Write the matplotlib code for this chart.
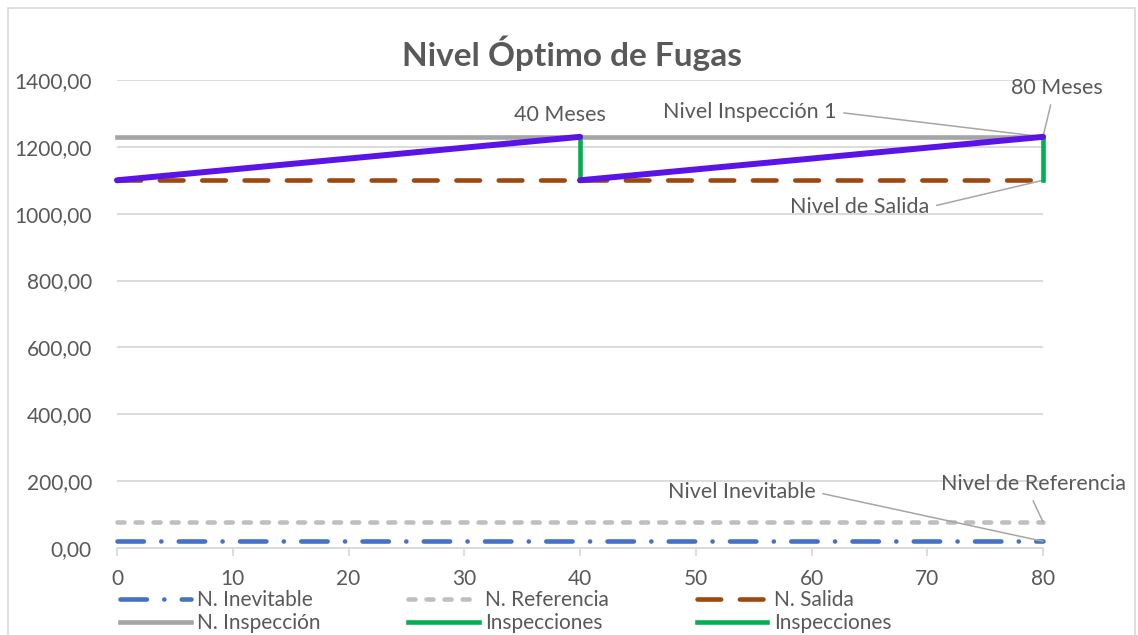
import matplotlib.pyplot as plt
import matplotlib.patches as mpatches
from matplotlib.ticker import FuncFormatter, MultipleLocator
import numpy as np

plt.rcParams['font.family'] = ['Lato', 'DejaVu Sans']
plt.rcParams['lines.scale_dashes'] = False

# datos
x_niveles = [0, 80]
n_inevitable = [20, 20]
n_referencia = [78, 78]
n_salida = [1100, 1100]
n_inspeccion = [1230, 1230]
insp1_x = [40, 40]
insp1_y = [1100, 1230]
insp2_x = [80, 80]
insp2_y = [1100, 1230]
fugas_x = [0, 40, np.nan, 40, 80]
fugas_y = [1100, 1230, np.nan, 1100, 1230]

gris_txt = '#595959'
gris_grid = '#D9D9D9'
fs = 15

fig = plt.figure(figsize=(11.38, 6.35), dpi=100)
ax = fig.add_axes([117/1138, 1-548/635, (1043-117)/1138, (548-80)/635])

# borde del grafico
fig.patches.append(mpatches.Rectangle((8/1138, -0.05), (1135-8)/1138, 1-8/635+0.05,
                                      transform=fig.transFigure, fill=False,
                                      edgecolor=gris_grid, lw=1.2))

l_inev, = ax.plot(x_niveles, n_inevitable, color='#4472C4', lw=3.3,
                  dashes=(19, 12.5, 0.1, 12.5), dash_capstyle='round',
                  label='N. Inevitable', clip_on=False, zorder=3)
l_ref, = ax.plot(x_niveles, n_referencia, color='#BFBFBF', lw=3.3,
                 dashes=(5, 8), dash_capstyle='round',
                 label='N. Referencia', clip_on=False, zorder=3)
l_sal, = ax.plot(x_niveles, n_salida, color='#9E480E', lw=3.3,
                 dashes=(17, 13.5), dash_capstyle='round',
                 label='N. Salida', clip_on=False, zorder=3)
l_insp, = ax.plot(x_niveles, n_inspeccion, color='#A5A5A5', lw=3.3,
                  label='N. Inspección', clip_on=False, zorder=3)
l_i1, = ax.plot(insp1_x, insp1_y, color='#00B050', lw=3.3,
                label='Inspecciones', clip_on=False, zorder=4)
l_i2, = ax.plot(insp2_x, insp2_y, color='#00B050', lw=3.3,
                label='Inspecciones', clip_on=False, zorder=4)
ax.plot(fugas_x, fugas_y, color='#5A14E6', lw=4.3, solid_capstyle='round',
        label='_nolegend_', clip_on=False, zorder=5)

ax.set_xlim(0, 80)
ax.set_ylim(0, 1400)
ax.xaxis.set_major_locator(MultipleLocator(10))
ax.yaxis.set_major_locator(MultipleLocator(200))
ax.yaxis.set_major_formatter(FuncFormatter(lambda v, p: f"{v:.2f}".replace('.', ',')))
ax.grid(axis='y', color=gris_grid, lw=1.3)
ax.set_axisbelow(True)
for s in ['top', 'right', 'left']:
    ax.spines[s].set_visible(False)
ax.spines['bottom'].set_color(gris_grid)
ax.spines['bottom'].set_linewidth(1.3)
ax.tick_params(axis='x', colors=gris_grid, labelcolor=gris_txt, length=6, width=1.3,
               labelsize=fs, pad=9)
ax.tick_params(axis='y', length=0, labelcolor=gris_txt, labelsize=fs, pad=18)

fig.text(0.503, 1-53/635, 'Nivel Óptimo de Fugas', ha='center', va='center',
         fontsize=24, fontweight='bold', color=gris_txt)

# etiquetas
lider = dict(arrowstyle='-', color='#A6A6A6', lw=1.1, shrinkA=3, shrinkB=0)
ax.text(38.3, 1295, '40 Meses', ha='center', va='center', fontsize=fs + 0.5, color=gris_txt)
ax.annotate('80 Meses', xy=(80, 1230), xytext=(81.2, 1376), ha='center', va='center',
            fontsize=fs + 0.5, color=gris_txt, annotation_clip=False,
            arrowprops=dict(lider, relpos=(0.45, 0)))
ax.annotate('Nivel Inspección 1', xy=(80, 1230), xytext=(54.7, 1304), ha='center', va='center',
            fontsize=fs + 0.5, color=gris_txt, annotation_clip=False,
            arrowprops=dict(lider, relpos=(1, 0.5)))
ax.annotate('Nivel de Salida', xy=(80, 1100), xytext=(64.2, 1020), ha='center', va='center',
            fontsize=fs + 0.5, color=gris_txt, annotation_clip=False,
            arrowprops=dict(lider, relpos=(1, 0.5)))
ax.annotate('Nivel Inevitable', xy=(80, 20), xytext=(54.0, 167), ha='center', va='center',
            fontsize=fs + 0.5, color=gris_txt, annotation_clip=False,
            arrowprops=dict(lider, relpos=(1, 0.5)))
ax.annotate('Nivel de Referencia', xy=(80, 78), xytext=(79.2, 191), ha='center', va='center',
            fontsize=fs + 0.5, color=gris_txt, annotation_clip=False,
            arrowprops=dict(lider, relpos=(0.48, 0)))

handles = [l_inev, l_insp, l_ref, l_i1, l_sal, l_i2]
fig.legend(handles, [h.get_label() for h in handles], ncol=3, loc='upper left',
           bbox_to_anchor=(120/1138, 1-590/635), frameon=False, fontsize=fs,
           handlelength=3.4, handletextpad=0.3, columnspacing=4.2,
           labelspacing=0.15, borderpad=0, borderaxespad=0, labelcolor=gris_txt)

plt.savefig('out.png', dpi=100)
